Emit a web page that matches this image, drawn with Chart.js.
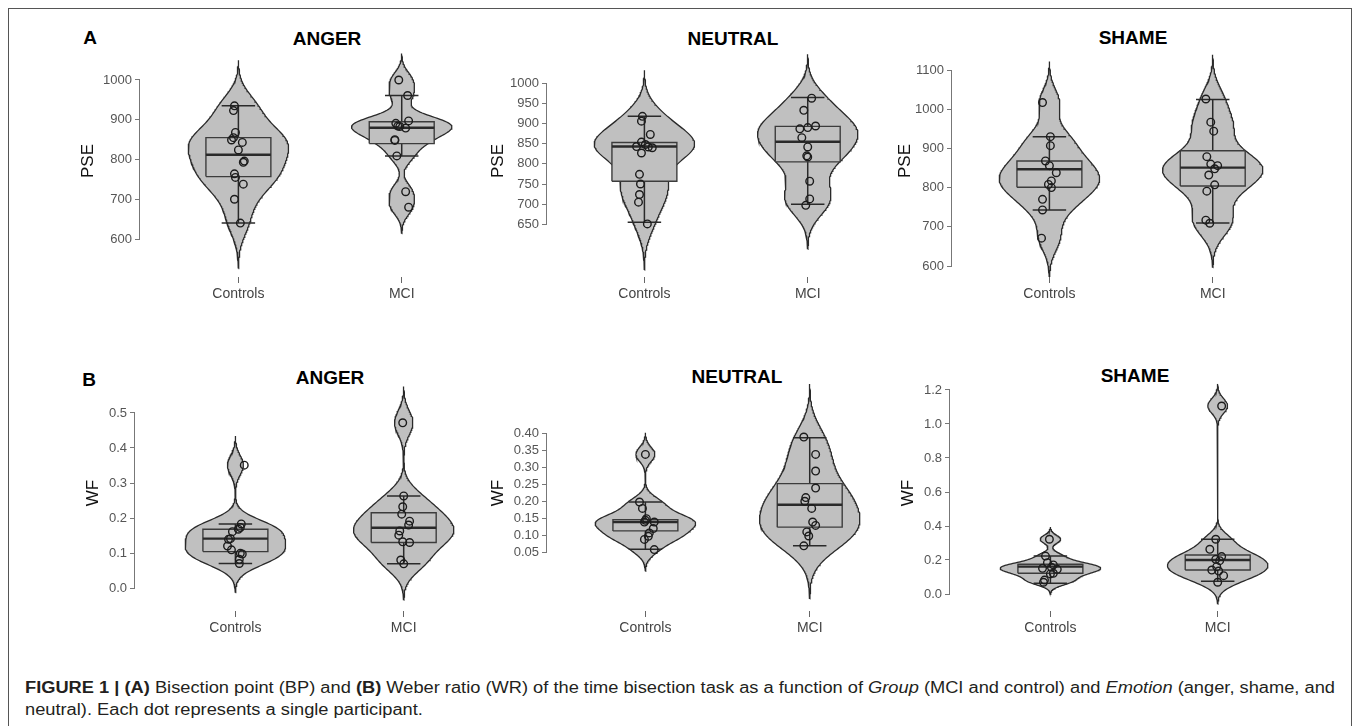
<!DOCTYPE html>
<html lang="en">
<head>
<meta charset="utf-8">
<title>Figure 1 - PSE and WF violins</title>
<script src="https://cdn.jsdelivr.net/npm/chart.js@4.4.0/dist/chart.umd.min.js"></script>
<style>
  body { margin: 0; background: #fff; font-family: "Liberation Sans", Arial, sans-serif; }
  #fig { position: relative; width: 1357px; height: 726px; overflow: hidden; }
  .frame { position: absolute; left: 8px; top: 8px; width: 1344px; height: 740px; border: 1px solid #555; box-sizing: border-box; }
  .cv { position: absolute; }
  .lbl { position: absolute; font-weight: bold; font-size: 19px; color: #000; transform: translate(-50%, -50%); white-space: nowrap; }
  .caption { position: absolute; left: 25px; top: 677px; font-size: 16px; line-height: 22px; color: #231f20; white-space: nowrap; transform-origin: 0 0; }
</style>
</head>
<body>
<div id="fig">
  <div class="frame"></div>
  <div class="lbl" style="left:90px;top:38px">A</div>
  <div class="lbl" style="left:89px;top:380px">B</div>
  <div class="lbl" style="left:327px;top:39px">ANGER</div>
  <div class="lbl" style="left:733px;top:39px">NEUTRAL</div>
  <div class="lbl" style="left:1133px;top:38px">SHAME</div>
  <div class="lbl" style="left:330px;top:378px">ANGER</div>
  <div class="lbl" style="left:737px;top:377px">NEUTRAL</div>
  <div class="lbl" style="left:1135px;top:376px">SHAME</div>
  <div class="caption" id="caption"><span id="capLine1"><b>FIGURE 1 | (A)</b> Bisection point (BP) and <b>(B)</b> Weber ratio (WR) of the time bisection task as a function of <i>Group</i> (MCI and control) and <i>Emotion</i> (anger, shame, and</span><br>neutral). Each dot represents a single participant.</div>
</div>

<script>
const groups = ['Controls', 'MCI'];

// PSE (panel A), one value per participant
const pseAngerControls = [935, 923, 868, 849, 855, 843, 824, 796, 793, 764, 755, 738, 700, 640];
const pseAngerMCI = [1000, 961, 897, 891, 884, 883, 879, 850, 848, 809, 719, 680];
const pseNeutralControls = [918, 906, 873, 854, 848, 843, 842, 840, 827, 774, 750, 724, 705, 651];
const pseNeutralMCI = [963, 933, 894, 890, 887, 865, 842, 820, 817, 757, 713, 697];
const pseShameControls = [1017, 930, 907, 868, 856, 838, 817, 808, 800, 770, 743, 671];
const pseShameMCI = [1026, 967, 944, 879, 860, 856, 848, 832, 807, 791, 717, 709];

// WF (panel B)
const wfAngerControls = [0.351, 0.183, 0.173, 0.168, 0.161, 0.141, 0.139, 0.12, 0.109, 0.099, 0.097, 0.082, 0.07];
const wfAngerMCI = [0.472, 0.263, 0.232, 0.211, 0.191, 0.18, 0.163, 0.151, 0.132, 0.13, 0.08, 0.069];
const wfNeutralControls = [0.338, 0.198, 0.179, 0.149, 0.139, 0.144, 0.139, 0.12, 0.107, 0.097, 0.088, 0.058];
const wfNeutralMCI = [0.389, 0.338, 0.289, 0.239, 0.211, 0.2, 0.179, 0.139, 0.129, 0.11, 0.098, 0.069];
const wfShameControls = [0.322, 0.223, 0.184, 0.171, 0.151, 0.157, 0.145, 0.122, 0.118, 0.082, 0.069];
const wfShameMCI = [1.106, 0.322, 0.263, 0.22, 0.204, 0.196, 0.161, 0.141, 0.135, 0.108, 0.069];

// box stats: [lower whisker, q1, median, q3, upper whisker]
const pseAngerControlsBox = [640, 757, 812, 855, 935];
const pseAngerMCIBox = [809, 840, 880, 895, 961];
const pseNeutralControlsBox = [655, 757, 843, 853, 918];
const pseNeutralMCIBox = [700, 805, 855, 893, 965];
const pseShameControlsBox = [743, 801, 847, 868, 930];
const pseShameMCIBox = [710, 804, 851, 894, 1025];
const wfAngerControlsBox = [0.07, 0.104, 0.141, 0.168, 0.183];
const wfAngerMCIBox = [0.069, 0.13, 0.172, 0.215, 0.263];
const wfNeutralControlsBox = [0.059, 0.113, 0.139, 0.146, 0.198];
const wfNeutralMCIBox = [0.069, 0.124, 0.19, 0.252, 0.387];
const wfShameControlsBox = [0.063, 0.122, 0.161, 0.175, 0.223];
const wfShameMCIBox = [0.075, 0.141, 0.2, 0.229, 0.322];

// tick labels
const pseTicksAnger = [600, 700, 800, 900, 1000];
const pseTicksNeutral = [650, 700, 750, 800, 850, 900, 950, 1000];
const pseTicksShame = [600, 700, 800, 900, 1000, 1100];
const wfTicksAnger = [0.0, 0.1, 0.2, 0.3, 0.4, 0.5];
const wfTicksNeutral = [0.05, 0.10, 0.15, 0.20, 0.25, 0.30, 0.35, 0.40];
const wfTicksShame = [0.0, 0.2, 0.4, 0.6, 0.8, 1.0, 1.2];

// horizontal jitter of the dots (pixels), same order as the values
const jitPseAngerControls = [-4, -5, -3, -7, -5, 4, 0, 6, 5, -4, -3, 5, -4, 2];
const jitPseAngerMCI = [-3, 6, 7, -6, -4, -2, 4, -7, -7, -5, 4, 7];
const jitPseNeutralControls = [-2, -3, 6, -3, 1, -8, 4, 8, -3, -5, -4, -5, -6, 3];
const jitPseNeutralMCI = [4, -4, 8, 0, -8, -6, 0, -1, 0, 2, 2, -2];
const jitPseShameControls = [-7, 1, 1, -4, 0, 7, 2, -1, 2, -7, -7, -8];
const jitPseShameMCI = [-7, -2, 1, -6, -2, 5, 2, -4, 2, -6, -7, -3];
const jitWfAngerControls = [9, 6, 5, 3, -3, -5, -7, -8, -4, 5, 7, 4, 4];
const jitWfAngerMCI = [-1, 0, -1, -2, 6, 5, -4, -5, -1, 6, -3, 0];
const jitWfNeutralControls = [0, -6, -3, 1, -1, 0, 9, 8, 4, 3, -1, 9];
const jitWfNeutralMCI = [-6, 6, 6, 6, -4, -5, 2, 3, 6, -3, -1, -6];
const jitWfShameControls = [-1, -5, -3, 3, -8, 1, 7, 3, 0, -6, -7];
const jitWfShameMCI = [4, -2, -8, 4, -2, 2, -1, -6, 1, 6, 0];

// row geometry (page pixels)
const rowA = { top: 0, plotTop: 45, plotBottom: 277, height: 310 };
const rowB = { top: 330, plotTop: 375, plotBottom: 611, height: 314 };

const panels = [
  { row: rowA, yTitle: 'PSE', ticks: pseTicksAnger, dec: 0, vals: [pseAngerControls, pseAngerMCI], box: [pseAngerControlsBox, pseAngerMCIBox], jit: [jitPseAngerControls, jitPseAngerMCI],
    axisX: 140, titleX: 88, c1: 240, c2: 406, ref: [1000, 80, 600, 239] },
  { row: rowA, yTitle: 'PSE', ticks: pseTicksNeutral, dec: 0, vals: [pseNeutralControls, pseNeutralMCI], box: [pseNeutralControlsBox, pseNeutralMCIBox], jit: [jitPseNeutralControls, jitPseNeutralMCI],
    axisX: 547, titleX: 498, c1: 646, c2: 812, ref: [1000, 83.3, 650, 224.3] },
  { row: rowA, yTitle: 'PSE', ticks: pseTicksShame, dec: 0, vals: [pseShameControls, pseShameMCI], box: [pseShameControlsBox, pseShameMCIBox], jit: [jitPseShameControls, jitPseShameMCI],
    axisX: 952, titleX: 905, c1: 1051, c2: 1217, ref: [1100, 70, 600, 266] },
  { row: rowB, yTitle: 'WF', ticks: wfTicksAnger, dec: 1, vals: [wfAngerControls, wfAngerMCI], box: [wfAngerControlsBox, wfAngerMCIBox], jit: [jitWfAngerControls, jitWfAngerMCI],
    axisX: 135, titleX: 93, c1: 237, c2: 408, ref: [0.5, 413, 0, 588] },
  { row: rowB, yTitle: 'WF', ticks: wfTicksNeutral, dec: 2, vals: [wfNeutralControls, wfNeutralMCI], box: [wfNeutralControlsBox, wfNeutralMCIBox], jit: [jitWfNeutralControls, jitWfNeutralMCI],
    axisX: 547, titleX: 498, c1: 647, c2: 814, ref: [0.40, 433.3, 0.05, 552.3] },
  { row: rowB, yTitle: 'WF', ticks: wfTicksShame, dec: 1, vals: [wfShameControls, wfShameMCI], box: [wfShameControlsBox, wfShameMCIBox], jit: [jitWfShameControls, jitWfShameMCI],
    axisX: 950, titleX: 908, c1: 1052, c2: 1222, ref: [1.2, 390, 0, 594] }
];

const FILL = '#c0c0c0';
const INK = '#2a2a2a';
const FONT = '"Liberation Sans", Arial, sans-serif';

function quantile(sorted, p) {
  const h = (sorted.length - 1) * p;
  const lo = Math.floor(h);
  const hi = Math.min(lo + 1, sorted.length - 1);
  return sorted[lo] + (h - lo) * (sorted[hi] - sorted[lo]);
}

// same rule as R's bw.nrd0
function bandwidth(x) {
  const n = x.length;
  const m = x.reduce((a, b) => a + b, 0) / n;
  const sd = Math.sqrt(x.reduce((a, b) => a + (b - m) * (b - m), 0) / (n - 1));
  const s = [...x].sort((a, b) => a - b);
  const iqr = quantile(s, 0.75) - quantile(s, 0.25);
  let lo = Math.min(sd, iqr / 1.34);
  if (!lo) lo = sd || 1;
  return 0.9 * lo * Math.pow(n, -0.2);
}

// violin outline from a gaussian kde of the values, widest point = halfW
function violinOutline(vals, center, halfW) {
  const bw = bandwidth(vals);
  const lo = Math.min(...vals) - 3 * bw;
  const hi = Math.max(...vals) + 3 * bw;
  const N = 200;
  const ys = [], ds = [];
  for (let i = 0; i <= N; i++) {
    const y = lo + (hi - lo) * i / N;
    let d = 0;
    vals.forEach(v => { const z = (y - v) / bw; d += Math.exp(-0.5 * z * z); });
    ys.push(y); ds.push(d);
  }
  const dmax = Math.max(...ds);
  const pts = [];
  for (let i = 0; i <= N; i++) pts.push({ x: center + halfW * ds[i] / dmax, y: ys[i] });
  for (let i = N; i >= 0; i--) pts.push({ x: center - halfW * ds[i] / dmax, y: ys[i] });
  pts.push(pts[0]);
  return pts;
}

// y axis line only between first and last tick
const axisLine = {
  id: 'axisLine',
  afterDraw(chart) {
    const ys = chart.scales.y;
    const t = ys.ticks;
    const ctx = chart.ctx;
    const x = Math.round(ys.right) - 0.5;
    ctx.save();
    ctx.strokeStyle = '#777';
    ctx.lineWidth = 1;
    ctx.beginPath();
    ctx.moveTo(x, ys.getPixelForValue(t[0].value));
    ctx.lineTo(x, ys.getPixelForValue(t[t.length - 1].value));
    ctx.stroke();
    ctx.restore();
  }
};

// stretch the caption so its first line ends where the original does
const cap = document.getElementById('caption');
const line1W = document.getElementById('capLine1').getBoundingClientRect().width;
cap.style.transform = 'scaleX(' + (1310 / line1W).toFixed(4) + ')';

const fig = document.getElementById('fig');

panels.forEach(p => {
  const row = p.row;
  const s = p.c2 - p.c1;                 // pixels per x unit
  const rightPad = 70;
  const xmin = 1 - (p.c1 - p.axisX) / s;
  const xmax = 2 + rightPad / s;
  const [v1, p1, v2, p2] = p.ref;
  const ppu = (p2 - p1) / (v1 - v2);
  const ymax = v1 + (p1 - row.plotTop) / ppu;
  const ymin = v2 - (row.plotBottom - p2) / ppu;

  const left = Math.round(p.titleX - 10);
  const axisW = p.axisX - left;
  const areaW = p.c2 + rightPad - p.axisX;
  const xAxisH = row.top + row.height - row.plotBottom;

  const wrap = document.createElement('div');
  wrap.className = 'cv';
  wrap.style.left = left + 'px';
  wrap.style.top = row.top + 'px';
  const cv = document.createElement('canvas');
  cv.width = axisW + areaW;
  cv.height = row.height;
  wrap.appendChild(cv);
  fig.appendChild(wrap);

  const violinW = 51 / s, boxW = 33 / s, capW = 17 / s;
  const datasets = [];
  groups.forEach((g, i) => {
    const c = i + 1;
    const [wl, q1, med, q3, wh] = p.box[i];
    datasets.push({ data: violinOutline(p.vals[i], c, violinW), fill: 'shape', backgroundColor: FILL,
      borderColor: INK, borderWidth: 1.3, pointRadius: 0, tension: 0, order: 6 });
    datasets.push({ data: [{ x: c, y: wl }, { x: c, y: wh }], borderColor: INK, borderWidth: 1.5, pointRadius: 0, order: 5 });
    datasets.push({ data: [{ x: c - capW, y: wl }, { x: c + capW, y: wl }], borderColor: INK, borderWidth: 1.5, pointRadius: 0, order: 5 });
    datasets.push({ data: [{ x: c - capW, y: wh }, { x: c + capW, y: wh }], borderColor: INK, borderWidth: 1.5, pointRadius: 0, order: 5 });
    datasets.push({ data: [{ x: c - boxW, y: q1 }, { x: c + boxW, y: q1 }, { x: c + boxW, y: q3 }, { x: c - boxW, y: q3 }, { x: c - boxW, y: q1 }],
      fill: 'shape', backgroundColor: FILL, borderColor: '#3c3c3c', borderWidth: 1.4, pointRadius: 0, tension: 0, order: 4 });
    datasets.push({ data: [{ x: c - boxW, y: med }, { x: c + boxW, y: med }], borderColor: INK, borderWidth: 2.4, pointRadius: 0, order: 3 });
    datasets.push({ data: p.vals[i].map((v, k) => ({ x: c + p.jit[i][k] / s, y: v })), showLine: false,
      pointRadius: 3.8, pointBorderWidth: 1.4, pointBorderColor: '#1c1c1c', pointBackgroundColor: 'rgba(0,0,0,0)', order: 1 });
  });

  new Chart(cv, {
    type: 'line',
    data: { datasets },
    plugins: [axisLine],
    options: {
      responsive: false,
      animation: false,
      events: [],
      layout: { padding: { top: row.plotTop - row.top, left: 0, right: 0, bottom: 0 } },
      plugins: { legend: { display: false }, tooltip: { enabled: false } },
      scales: {
        x: {
          type: 'linear', min: xmin, max: xmax,
          afterFit: sc => { sc.height = xAxisH; },
          afterBuildTicks: sc => { sc.ticks = [{ value: 1 }, { value: 2 }]; },
          grid: { drawOnChartArea: false, drawTicks: true, tickLength: 6, color: '#666' },
          border: { display: false },
          ticks: { autoSkip: false, maxRotation: 0, padding: 3, color: '#444', font: { family: FONT, size: 14 },
            callback: v => groups[v - 1] }
        },
        y: {
          type: 'linear', min: ymin, max: ymax,
          afterFit: sc => { sc.width = axisW; },
          afterBuildTicks: sc => { sc.ticks = p.ticks.map(v => ({ value: v })); },
          grid: { drawOnChartArea: false, drawTicks: true, tickLength: 5, color: '#777' },
          border: { display: false },
          ticks: { autoSkip: false, padding: 3, color: '#555', font: { family: FONT, size: 13 },
            callback: v => Number(v).toFixed(p.dec) },
          title: { display: true, text: p.yTitle, color: '#111', padding: { top: 0, bottom: 0 }, font: { family: FONT, size: 17 } }
        }
      }
    }
  });
});
</script>
</body>
</html>
